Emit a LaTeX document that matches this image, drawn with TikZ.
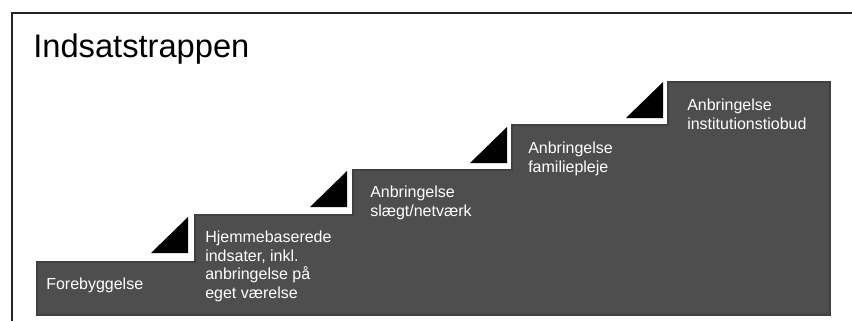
\documentclass[tikz,border=0pt]{standalone}
\usepackage{fontspec}
\setmainfont{Liberation Sans}
\usetikzlibrary{positioning,calc}
\definecolor{stepgrey}{RGB}{78,78,78}
\definecolor{edgegrey}{RGB}{64,64,64}
\definecolor{framegrey}{RGB}{35,35,35}

\begin{document}
\begin{tikzpicture}[x=0.75pt,y=-0.75pt,
    stepbox/.style={fill=stepgrey,draw=edgegrey,line width=0.8pt},
    steptext/.style={anchor=north west,inner sep=0pt,align=left,text=white,
      font=\fontsize{12}{13.9}\selectfont}]
    \useasboundingbox (0,0) rectangle (852,321);
    \draw[framegrey,line width=2.2pt] (12,321) -- (12,13) -- (852,13);
    \node[anchor=base west,inner sep=0pt,font=\fontsize{24.5}{28}\selectfont] (title) at (33,58) {Indsatstrappen};
    \filldraw[stepbox] (37,315) -- (37,262) -- (195,262) -- (195,215) -- (353,215) -- (353,170)
        -- (512,170) -- (512,125) -- (668,125) -- (668,82) -- (830,82) -- (830,315) -- cycle;
    \foreach \x/\y in {188/253, 347/207, 507/163, 663/118}
        \fill[black] (\x-37,\y) -- (\x,\y) -- (\x,\y-36) -- cycle;
    \node[steptext] (forebyg) at (46,278) {Forebyggelse};
    \node[steptext] (hjemme) at (205,231) {Hjemmebaserede\\indsater, inkl.\\anbringelse på\\eget værelse};
    \node[steptext] (slaegt) at (370,186) {Anbringelse\\slægt/netværk};
    \node[steptext] (familie) at (528,142) {Anbringelse\\familiepleje};
    \node[steptext] (instit) at (687,99) {Anbringelse\\institutionstiobud};
\end{tikzpicture}
\end{document}
